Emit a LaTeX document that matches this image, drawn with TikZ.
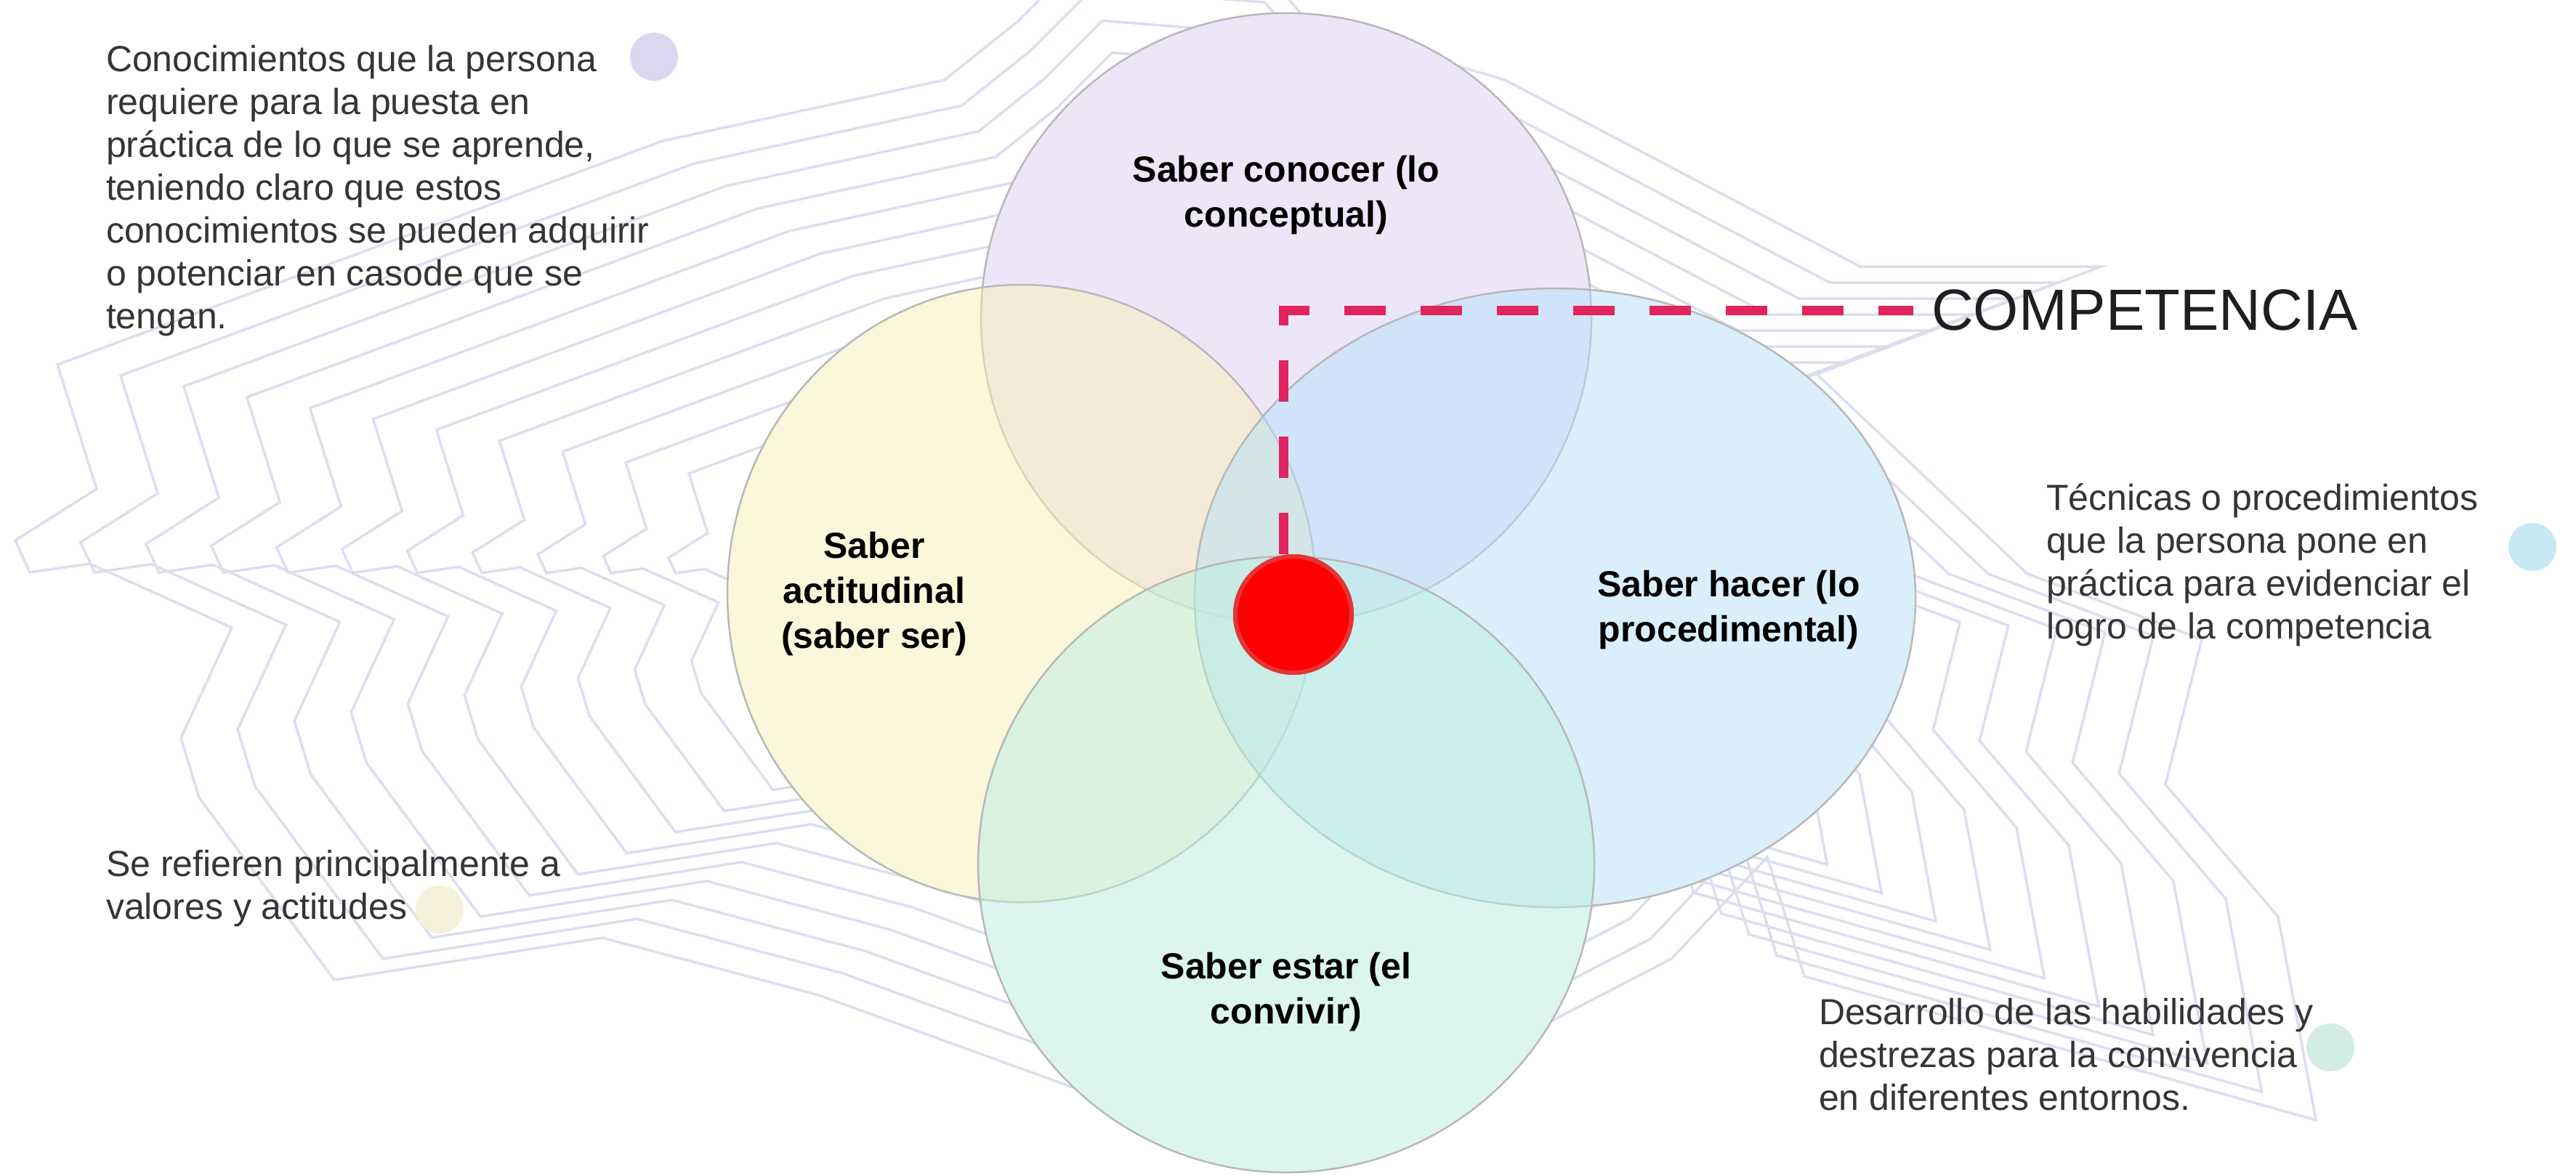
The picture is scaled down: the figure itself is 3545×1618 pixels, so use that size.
\documentclass[tikz,border=0pt]{standalone}
\usepackage{fontspec}
\setmainfont{Liberation Sans}
\usetikzlibrary{shapes.geometric}
\definecolor{bgline}{HTML}{DCDDEE}
\definecolor{desctext}{HTML}{353535}
\definecolor{rimgray}{HTML}{B8B8B8}
\definecolor{ctop}{RGB}{221,207,245}
\definecolor{cleft}{RGB}{249,241,185}
\definecolor{cright}{RGB}{182,225,248}
\definecolor{cbottom}{RGB}{187,239,225}
\definecolor{dashred}{RGB}{224,36,94}
\definecolor{dotrim}{RGB}{228,52,52}
\definecolor{dotlav}{HTML}{DDD6F1}
\definecolor{dotbeige}{HTML}{F5F0DA}
\definecolor{dotcyan}{HTML}{C6EAF3}
\definecolor{dotgreen}{HTML}{D3ECE4}
\begin{document}
\begin{tikzpicture}[x=0.2pt,y=-0.2pt,
  desc/.style={font=\fontsize{10}{11.8}\selectfont, text=desctext, align=left, inner sep=0pt, anchor=base west},
  lab/.style={font=\fontsize{10}{12.4}\selectfont\bfseries, align=center, inner sep=0pt, text=black},
  setshape/.style={draw=rimgray, line width=0.5pt, fill opacity=0.5, inner sep=0pt, outer sep=0pt},
  dashline/.style={draw=dashred, line width=2.6pt, dash pattern=on 11.4pt off 9.6pt},
  deco/.style={circle, inner sep=0pt, minimum size=13.2pt}]
\useasboundingbox (0,0) rectangle (3545,1618);
\fill[white] (0,0) rectangle (3545,1618);
% background pattern
\begin{scope}
\clip (0,0) rectangle (3545,1618);
\foreach \s in {1,0.948,0.896,0.844,0.792,0.74,0.688,0.636,0.584,0.532,0.48}{
  \draw[bgline, line width=0.7pt, line join=miter, shift={(1750,790)}, scale=\s, shift={(-1750,-790)}]
    (21,744) -- (133,673) -- (79,502) -- (912,194) -- (1300,110) -- (1400,30)
    -- (1490,-60) -- (1740,-40) -- (1800,30) -- (2071,110) -- (2560,367)
    -- (2891,367) -- (2500,515) -- (2790,790) -- (3030,880) -- (2980,1080)
    -- (3135,1262) -- (3187,1542) -- (2483,1344) -- (2432,1180) -- (2300,1320)
    -- (1760,1600) -- (1127,1370) -- (829,1291) -- (460,1349) -- (274,1098)
    -- (249,1016) -- (319,864) -- (124,776) -- (41,788) -- cycle;
}
\end{scope}
% opaque white under the set shapes
\fill[white] (1770,438) circle [radius=420];
\fill[white] (1406,817) circle [x radius=405, y radius=425];
\fill[white] (2140,823) circle [x radius=496, y radius=426];
\fill[white] (1770,1190) circle [radius=424];
% set shapes
\node[setshape, circle, fill=ctop, minimum size=168pt] (stop) at (1770,438) {};
\node[setshape, ellipse, fill=cleft, minimum width=162pt, minimum height=170pt] (sleft) at (1406,817) {};
\node[setshape, ellipse, fill=cright, minimum width=198.4pt, minimum height=170.4pt] (sright) at (2140,823) {};
\node[setshape, circle, fill=cbottom, minimum size=169.6pt] (sbottom) at (1770,1190) {};
% labels
\node[lab] (ltop) at (1770,269) {Saber conocer (lo\\conceptual)};
\node[lab] (lleft) at (1203,818) {Saber\\actitudinal\\(saber ser)};
\node[lab] (lright) at (2379,840) {Saber hacer (lo\\procedimental)};
\node[lab] (lbottom) at (1770,1366) {Saber estar (el\\convivir)};
% competencia
\node[font=\fontsize{16}{19}\selectfont, inner sep=0pt, anchor=west, text=black!88] (comp) at (2657,427) {COMPETENCIA};
\node[circle, fill=red, draw=dotrim, line width=1.2pt, minimum size=32pt, inner sep=0pt] (dot) at (1780,846) {};
\draw[dashline] ([xshift=-2.8pt]dot.north) |- ([xshift=-4.8pt]comp.west);
\node[circle, fill=red, draw=dotrim, line width=1.2pt, minimum size=32pt, inner sep=0pt] (dottop) at (1780,846) {};
% descriptions (base anchor = baseline of the last line)
\node[desc] (dtl) at (145,452) {Conocimientos que la persona\\requiere para la puesta en\\práctica de lo que se aprende,\\teniendo claro que estos\\conocimientos se pueden adquirir\\o potenciar en casode que se\\tengan.};
\node[deco, fill=dotlav] (ddtl) at (900,78) {};
\node[desc] (dbl) at (145,1265) {Se refieren principalmente a\\valores y actitudes};
\node[deco, fill=dotbeige] (ddbl) at (605,1252) {};
\node[desc] (dr) at (2815,879) {Técnicas o procedimientos\\que la persona pone en\\práctica para evidenciar el\\logro de la competencia};
\node[deco, fill=dotcyan] (ddr) at (3485,753) {};
\node[desc] (dbr) at (2502,1528) {Desarrollo de las habilidades y\\destrezas para la convivencia\\en diferentes entornos.};
\node[deco, fill=dotgreen] (ddbr) at (3207,1442) {};
\end{tikzpicture}
\end{document}
